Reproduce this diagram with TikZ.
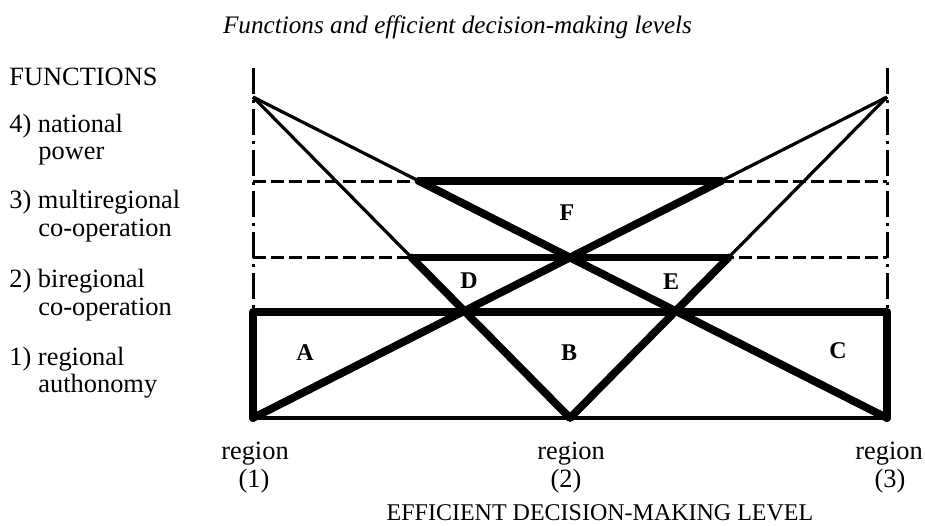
\documentclass[tikz,border=0pt]{standalone}
\usepackage{fontspec}
\setmainfont{Liberation Serif}
\begin{document}
\begin{tikzpicture}[x=0.5pt,y=-0.5pt,
  thinline/.style={line width=1.6pt},
  thickline/.style={line width=3.9pt, line cap=round, line join=round},
  bottomline/.style={line width=2pt, line cap=round},
  levelline/.style={line width=1.5pt, dash pattern=on 6.5pt off 2.5pt},
  axisline/.style={line width=1.5pt, dash pattern=on 13pt off 3pt on 1.5pt off 3pt},
  lbl/.style={font=\fontsize{13.2}{13.5}\selectfont, inner sep=0pt},
  ttl/.style={font=\itshape\fontsize{12.6}{12.6}\selectfont, inner sep=0pt},
  captext/.style={font=\fontsize{12}{12}\selectfont, inner sep=0pt},
  zone/.style={font=\bfseries\fontsize{12}{12}\selectfont, inner sep=0pt}]
\useasboundingbox (0,0) rectangle (925,525);
% geometry
\coordinate (L) at (253,97);
\coordinate (R) at (887,97);
\coordinate (BL) at (253,418);
\coordinate (BR) at (887,418);
\coordinate (BM) at (570,418);
\coordinate (TL) at (253,312);
\coordinate (TR) at (887,312);
\coordinate (F1) at (418.9,181);
\coordinate (F2) at (721.1,181);
\coordinate (G1) at (411.5,257.5);
\coordinate (G2) at (728.5,257.5);
\coordinate (LA) at (253,68);
\coordinate (RA) at (887,68);
\coordinate (D1L) at (253,181);
\coordinate (D1R) at (887,181);
\coordinate (D2L) at (253,257.5);
\coordinate (D2R) at (887,257.5);
% guide lines
\draw[axisline] (LA) -- (TL);
\draw[axisline] (RA) -- (TR);
\draw[levelline] (D1L) -- (D1R);
\draw[levelline] (D2L) -- (D2R);
% thin lines from apexes
\draw[thinline] (L) -- (F1);
\draw[thinline] (L) -- (G1);
\draw[thinline] (R) -- (F2);
\draw[thinline] (R) -- (G2);
% thick figure
\draw[bottomline] (BL) -- (BR);
\draw[thickline] (BL) -- (TL) -- (TR) -- (BR);
\draw[thickline, line width=4.2pt] (F1) -- (F2);
\draw[thickline, line width=3.5pt] (G1) -- (G2);
\draw[thickline] (F1) -- (BR);
\draw[thickline] (F2) -- (BL);
\draw[thickline] (G1) -- (BM) -- (G2);
% zone letters
\node[zone] (zA) at (305,353) {A};
\node[zone] (zB) at (569,353) {B};
\node[zone] (zC) at (838,351) {C};
\node[zone] (zD) at (469,281) {D};
\node[zone] (zE) at (671,282) {E};
\node[zone] (zF) at (567,213) {F};
% title
\node[ttl, anchor=base] (title) at (457.5,33) {Functions and efficient decision-making levels};
% left labels
\node[lbl, anchor=base west] (fn) at (9,85) {FUNCTIONS};
\node[lbl, anchor=base west] (f4a) at (9,132) {4) national};
\node[lbl, anchor=base west] (f4b) at (38,159) {power};
\node[lbl, anchor=base west] (f3a) at (9,208) {3) multiregional};
\node[lbl, anchor=base west] (f3b) at (38,236) {co-operation};
\node[lbl, anchor=base west] (f2a) at (9,287) {2) biregional};
\node[lbl, anchor=base west] (f2b) at (38,315) {co-operation};
\node[lbl, anchor=base west] (f1a) at (9,365) {1) regional};
\node[lbl, anchor=base west] (f1b) at (38,392) {authonomy};
% bottom labels
\node[lbl, anchor=base] (r1) at (255,459) {region};
\node[lbl, anchor=base] (r1n) at (254,487) {(1)};
\node[lbl, anchor=base] (r2) at (571,459) {region};
\node[lbl, anchor=base] (r2n) at (566,487) {(2)};
\node[lbl, anchor=base] (r3) at (889,459) {region};
\node[lbl, anchor=base] (r3n) at (890,487) {(3)};
\node[captext, anchor=base] (axis) at (600,520) {EFFICIENT DECISION-MAKING LEVEL};
\end{tikzpicture}
\end{document}
